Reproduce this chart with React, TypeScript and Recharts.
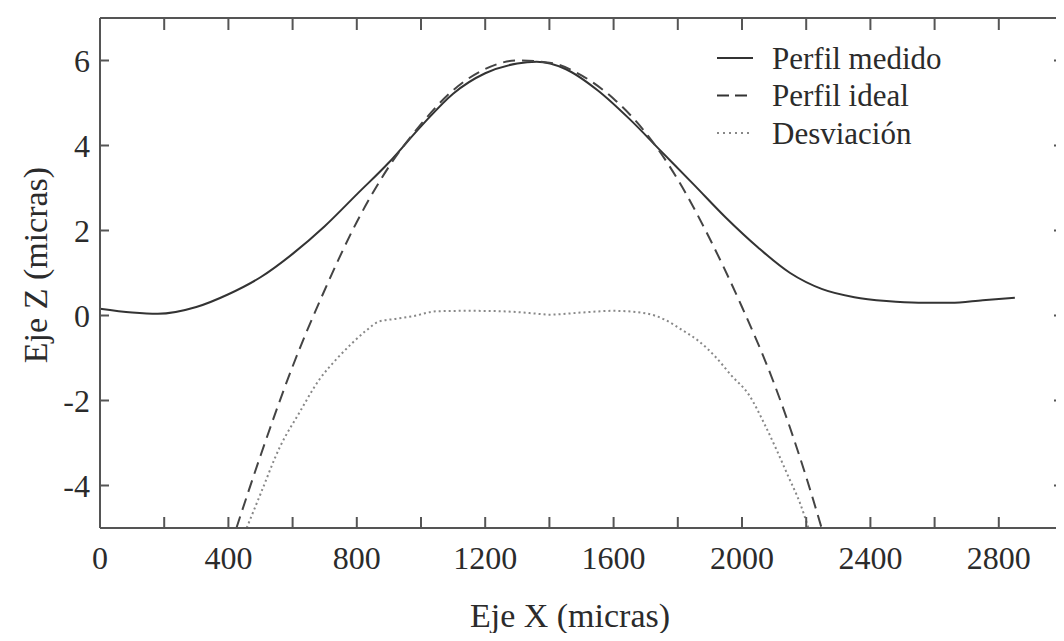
import React from 'react'
import { LineChart, Line, XAxis, YAxis, Label } from 'recharts'

// values (x in micras, z in micras)
const perfilMedido = [
  [0, 0.16], [100, 0.07], [180, 0.04], [300, 0.2], [400, 0.5], [500, 0.9],
  [600, 1.45], [700, 2.1], [800, 2.85], [900, 3.6], [1000, 4.45], [1100, 5.22],
  [1200, 5.7], [1300, 5.93], [1360, 5.97], [1450, 5.8], [1550, 5.3], [1650, 4.62],
  [1750, 3.85], [1850, 3.08], [1950, 2.3], [2050, 1.6], [2150, 1.0], [2250, 0.62],
  [2350, 0.43], [2450, 0.34], [2550, 0.3], [2650, 0.3], [2750, 0.36], [2850, 0.42],
]

const perfilIdeal = [
  [425, -5.0], [500, -3.3], [600, -1.2], [700, 0.6], [800, 2.2], [900, 3.5],
  [1000, 4.5], [1100, 5.3], [1200, 5.8], [1300, 6.0], [1400, 5.95], [1500, 5.65],
  [1600, 5.1], [1700, 4.3], [1800, 3.2], [1900, 1.8], [2000, 0.2], [2100, -1.6],
  [2200, -3.8], [2248, -5.0],
]

const desviacion = [
  [457, -5.0], [500, -4.2], [560, -3.1], [620, -2.3], [684, -1.5], [740, -1.0],
  [787, -0.64], [830, -0.35], [870, -0.14], [920, -0.08], [973, -0.02], [1050, 0.1],
  [1150, 0.11], [1250, 0.1], [1350, 0.05], [1400, 0.02], [1500, 0.07], [1600, 0.11],
  [1700, 0.05], [1760, -0.1], [1813, -0.34], [1865, -0.6], [1917, -0.97], [1968, -1.42],
  [2020, -1.85], [2073, -2.6], [2110, -3.2], [2145, -3.8], [2180, -4.4], [2207, -5.0],
]

const xTicks = [0, 200, 400, 600, 800, 1000, 1200, 1400, 1600, 1800, 2000, 2200, 2400, 2600, 2800, 3000]
const xLabels = [0, 400, 800, 1200, 1600, 2000, 2400, 2800]
const yTicks = [-4, -2, 0, 2, 4, 6]

const X_DOMAIN = [0, 3000]
const Z_DOMAIN = [-5, 7]

// layout
const W = 1064
const H = 641
const TOP = 18
const RIGHT = 1
const Y_AXIS_W = 100
const X_AXIS_H = 113
const PLOT_W = W - RIGHT - Y_AXIS_W
const PLOT_H = H - TOP - X_AXIS_H

const toRows = (pts: number[][]) => pts.map(([x, z]) => ({ x, z }))

const FONT = '"Liberation Serif", "Times New Roman", serif'
const INK = '#2b2b2b'
const AXIS = '#555'

// bottom tick plus its twin on the top edge (inward ticks on both)
function bottomTick({ x, y, payload }: any) {
  const v = payload.value
  const top = y - PLOT_H
  return (
    <g>
      <path d={`M${x},${y}V${y - 11}`} stroke={AXIS} strokeWidth={2} fill="none" />
      <path d={`M${x},${top}V${top + 12}`} stroke={AXIS} strokeWidth={2} fill="none" />
      {v === X_DOMAIN[0] && <path d={`M${x},${top}H${x + PLOT_W}`} stroke={AXIS} strokeWidth={2} fill="none" />}
      {v === X_DOMAIN[1] && <path d={`M${x},${top}V${y}`} stroke={AXIS} strokeWidth={2} fill="none" />}
      {xLabels.includes(v) && (
        <text x={x} y={y + 30} textAnchor="middle" dominantBaseline="central" fontSize={32} fontFamily={FONT} fill={INK}>
          {v}
        </text>
      )}
    </g>
  )
}

// left tick plus its twin on the right edge
function leftTick({ x, y, payload }: any) {
  const right = x + PLOT_W
  return (
    <g>
      <path d={`M${x},${y}H${x + 9}`} stroke={AXIS} strokeWidth={2} fill="none" />
      <path d={`M${right},${y}H${right - 9}`} stroke={AXIS} strokeWidth={2} fill="none" />
      <text x={x - 10} y={y} textAnchor="end" dominantBaseline="central" fontSize={32} fontFamily={FONT} fill={INK}>
        {payload.value}
      </text>
    </g>
  )
}

const legendItems = [
  { name: 'Perfil medido', dash: undefined, color: '#333' },
  { name: 'Perfil ideal', dash: '12 6', color: '#333' },
  { name: 'Desviación', dash: '2 4', color: '#888' },
]

function FrameLegend() {
  return (
    <g>
      {legendItems.map((it, i) => {
        const cy = 58 + i * 37.5
        return (
          <g key={it.name}>
            <line x1={717} y1={cy} x2={753} y2={cy} stroke={it.color} strokeWidth={2} strokeDasharray={it.dash} />
            <text x={772} y={cy} dominantBaseline="central" fontSize={31} fontFamily={FONT} fill={INK}>
              {it.name}
            </text>
          </g>
        )
      })}
    </g>
  )
}

function YTitle() {
  return (
    <text transform="translate(35,265) rotate(-90)" textAnchor="middle" dominantBaseline="central" fontSize={34} fontFamily={FONT} fill={INK}>
      Eje Z (micras)
    </text>
  )
}

function XTitle() {
  return (
    <text x={570} y={615} textAnchor="middle" dominantBaseline="central" fontSize={34} fontFamily={FONT} fill={INK}>
      Eje X (micras)
    </text>
  )
}

export default function App() {
  return (
    <div style={{ margin: -8, width: W, height: H, overflow: 'hidden', background: '#fff' }}>
      <LineChart width={W} height={H} margin={{ top: TOP, right: RIGHT, bottom: 0, left: 0 }}>
        <XAxis
          type="number"
          dataKey="x"
          domain={X_DOMAIN}
          ticks={xTicks}
          interval={0}
          height={X_AXIS_H}
          tickSize={0}
          tickMargin={0}
          tick={bottomTick}
          axisLine={{ stroke: AXIS, strokeWidth: 2 }}
          tickLine={false}
        >
          <Label content={XTitle} />
        </XAxis>
        <YAxis
          type="number"
          domain={Z_DOMAIN}
          ticks={yTicks}
          interval={0}
          width={Y_AXIS_W}
          tickSize={0}
          tickMargin={0}
          tick={leftTick}
          axisLine={{ stroke: AXIS, strokeWidth: 2 }}
          tickLine={false}
        >
          <Label content={YTitle} />
          <Label content={FrameLegend} />
        </YAxis>

        <Line
          data={toRows(perfilMedido)}
          dataKey="z"
          type="monotone"
          stroke="#333"
          strokeWidth={2}
          dot={false}
          isAnimationActive={false}
        />
        <Line
          data={toRows(perfilIdeal)}
          dataKey="z"
          type="monotone"
          stroke="#444"
          strokeWidth={2}
          strokeDasharray="12 7"
          dot={false}
          isAnimationActive={false}
        />
        <Line
          data={toRows(desviacion)}
          dataKey="z"
          type="monotone"
          stroke="#888"
          strokeWidth={2}
          strokeDasharray="2 3"
          dot={false}
          isAnimationActive={false}
        />
      </LineChart>
    </div>
  )
}
